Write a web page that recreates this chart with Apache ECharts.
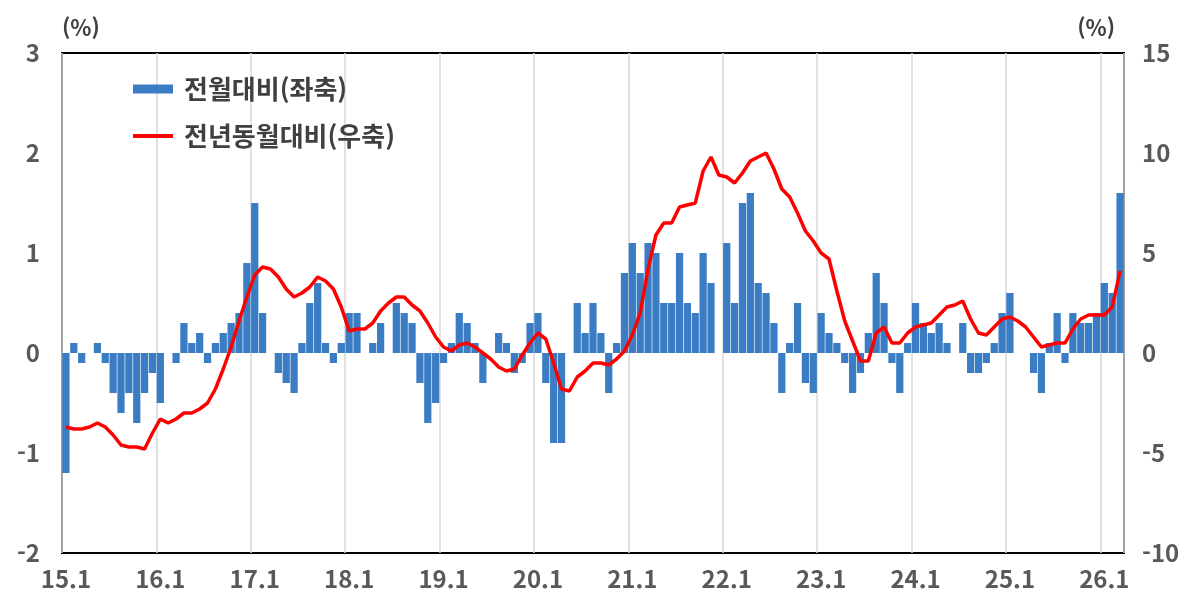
<!DOCTYPE html>
<html lang="ko">
<head>
    <meta charset="utf-8">
    <title>전월대비 / 전년동월대비</title>
    <script src="https://cdn.jsdelivr.net/npm/echarts@6/dist/echarts.min.js"></script>
    <style>
        html, body { margin: 0; padding: 0; background: #fff; }
        #main { width: 1199px; height: 608px; }
    </style>
</head>
<body>
<div id="main"></div>
<script type="text/javascript">
    // 월별 카테고리 (15.1 ~ 26.3)
    var months = [];
    for (var y = 15; y <= 26; y++) {
        for (var m = 1; m <= 12; m++) {
            if (y === 26 && m > 3) break;
            months.push(y + '.' + m);
        }
    }

    // 전월대비 (%), 좌축
    var mom = [
        -1.2, 0.1, -0.1, 0, 0.1, -0.1, -0.4, -0.6, -0.4, -0.7, -0.4, -0.2,
        -0.5, 0, -0.1, 0.3, 0.1, 0.2, -0.1, 0.1, 0.2, 0.3, 0.4, 0.9,
        1.5, 0.4, 0, -0.2, -0.3, -0.4, 0.1, 0.5, 0.7, 0.1, -0.1, 0.1,
        0.4, 0.4, 0, 0.1, 0.3, 0, 0.5, 0.4, 0.3, -0.3, -0.7, -0.5,
        -0.1, 0.1, 0.4, 0.3, 0.1, -0.3, 0, 0.2, 0.1, -0.2, -0.1, 0.3,
        0.4, -0.3, -0.9, -0.9, 0, 0.5, 0.2, 0.5, 0.2, -0.4, 0.1, 0.8,
        1.1, 0.8, 1.1, 1.0, 0.5, 0.5, 1.0, 0.5, 0.4, 1.0, 0.7, 0,
        1.1, 0.5, 1.5, 1.6, 0.7, 0.6, 0.3, -0.4, 0.1, 0.5, -0.3, -0.4,
        0.4, 0.2, 0.1, -0.1, -0.4, -0.2, 0.2, 0.8, 0.5, -0.1, -0.4, 0.1,
        0.5, 0.3, 0.2, 0.3, 0.1, 0, 0.3, -0.2, -0.2, -0.1, 0.1, 0.4,
        0.6, 0, 0, -0.2, -0.4, 0.1, 0.4, -0.1, 0.4, 0.3, 0.3, 0.4,
        0.7, 0.6, 1.6
    ];

    // 전년동월대비 (%), 우축
    var yoy = [
        -3.7, -3.8, -3.8, -3.7, -3.5, -3.7, -4.1, -4.6, -4.7, -4.7, -4.8, -4.0,
        -3.3, -3.5, -3.3, -3.0, -3.0, -2.8, -2.5, -1.8, -0.8, 0.3, 1.6, 2.8,
        3.9, 4.3, 4.2, 3.8, 3.2, 2.8, 3.0, 3.3, 3.8, 3.6, 3.2, 2.3,
        1.1, 1.2, 1.2, 1.5, 2.1, 2.5, 2.8, 2.8, 2.4, 2.1, 1.5, 0.8,
        0.3, 0.1, 0.4, 0.5, 0.3, 0.0, -0.3, -0.7, -0.9, -0.8, -0.1, 0.5,
        1.0, 0.7, -0.5, -1.8, -1.9, -1.2, -0.9, -0.5, -0.5, -0.6, -0.3, 0.1,
        0.9, 2.0, 4.2, 5.9, 6.5, 6.5, 7.3, 7.4, 7.5, 9.1, 9.8, 8.9,
        8.8, 8.5, 9.0, 9.6, 9.8, 10.0, 9.2, 8.2, 7.8, 7.0, 6.1, 5.6,
        5.0, 4.7, 3.1, 1.6, 0.6, -0.4, -0.4, 1.0, 1.3, 0.5, 0.5, 1.0,
        1.3, 1.4, 1.5, 1.9, 2.3, 2.4, 2.6, 1.7, 1.0, 0.9, 1.3, 1.7,
        1.8, 1.6, 1.3, 0.8, 0.3, 0.4, 0.5, 0.5, 1.2, 1.7, 1.9, 1.9,
        1.9, 2.3, 4.1
    ];

    var fontKR = '"Noto Sans CJK KR", "Noto Sans", sans-serif';
    var grayText = '#595959';

    var myChart = echarts.init(document.getElementById('main'));

    var option = {
        animation: false,
        textStyle: { fontFamily: fontKR },
        grid: {
            left: 62,
            right: 75,
            top: 53,
            bottom: 55,
            show: true,
            borderColor: '#000',
            borderWidth: 2,
            backgroundColor: 'transparent'
        },
        legend: [
            {
                data: ['전월대비(좌축)'],
                left: 133,
                top: 74,
                padding: 0,
                icon: 'rect',
                itemWidth: 40,
                itemHeight: 9,
                textStyle: {
                    fontFamily: fontKR, fontSize: 26, fontWeight: 'bold',
                    color: '#404040', lineHeight: 30, padding: [0, 0, 0, 6]
                }
            },
            {
                data: ['전년동월대비(우축)'],
                left: 133,
                top: 121,
                padding: 0,
                icon: 'rect',
                itemWidth: 40,
                itemHeight: 4,
                textStyle: {
                    fontFamily: fontKR, fontSize: 26, fontWeight: 'bold',
                    color: '#404040', lineHeight: 30, padding: [0, 0, 0, 6]
                }
            }
        ],
        xAxis: {
            type: 'category',
            data: months,
            boundaryGap: true,
            axisLine: { show: false, onZero: false },
            axisTick: { show: false },
            axisLabel: {
                interval: 11,
                margin: 14,
                fontSize: 24,
                fontWeight: 'bold',
                color: grayText,
                fontFamily: fontKR
            },
            splitLine: {
                show: true,
                interval: 11,
                lineStyle: { color: '#d9d9d9', width: 1.5 }
            }
        },
        yAxis: [
            {
                type: 'value',
                min: -2,
                max: 3,
                interval: 1,
                name: '(%)',
                nameLocation: 'end',
                nameGap: 14,
                nameTextStyle: {
                    fontSize: 22, fontWeight: 'bold', color: '#404040',
                    align: 'left', fontFamily: fontKR
                },
                axisLine: { show: false },
                axisTick: { show: false },
                splitLine: { show: false },
                axisLabel: {
                    margin: 22,
                    fontSize: 24,
                    fontWeight: 'bold',
                    color: grayText,
                    fontFamily: fontKR
                }
            },
            {
                type: 'value',
                min: -10,
                max: 15,
                interval: 5,
                name: '(%)',
                nameLocation: 'end',
                nameGap: 14,
                nameTextStyle: {
                    fontSize: 22, fontWeight: 'bold', color: '#404040',
                    align: 'right', padding: [0, 9, 0, 0], fontFamily: fontKR
                },
                axisLine: { show: false },
                axisTick: { show: false },
                splitLine: { show: false },
                axisLabel: {
                    margin: 18,
                    fontSize: 24,
                    fontWeight: 'bold',
                    color: grayText,
                    fontFamily: fontKR
                }
            }
        ],
        series: [
            {
                name: '전월대비(좌축)',
                type: 'bar',
                yAxisIndex: 0,
                data: mom,
                barCategoryGap: '8%',
                itemStyle: { color: '#3b7dc4' }
            },
            {
                name: '전년동월대비(우축)',
                type: 'line',
                yAxisIndex: 1,
                data: yoy,
                symbol: 'none',
                z: 5,
                lineStyle: { color: '#ff0000', width: 3.5 },
                itemStyle: { color: '#ff0000' }
            }
        ]
    };

    myChart.setOption(option);
</script>
</body>
</html>
